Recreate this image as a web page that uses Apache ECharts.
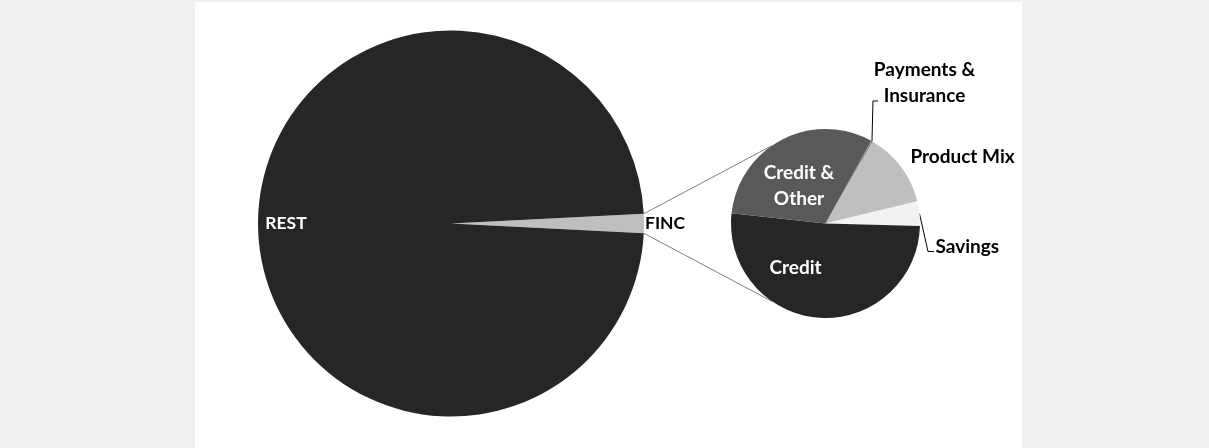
<!DOCTYPE html>
<html>
<head>
<meta charset="utf-8">
<script src="https://cdn.jsdelivr.net/npm/echarts@6/dist/echarts.min.js"></script>
<style>
  html, body { margin: 0; padding: 0; background: #f0f0f0; }
  #panel { position: absolute; left: 195px; top: 2px; width: 827px; height: 446px; background: #ffffff; }
  #chart { position: absolute; left: 0; top: 0; width: 1209px; height: 448px; }
</style>
</head>
<body>
<div id="panel"></div>
<div id="chart"></div>
<script>
// Overall split: the financial sector against everything else
const mainNames = ['FINC', 'REST'];
const mainValues = [1.6, 98.4];
const mainColors = ['#bfbfbf', '#262626'];

// Breakdown of the FINC slice
const finNames = ['Payments &\nInsurance', 'Product Mix', 'Savings', 'Credit', 'Credit &\nOther'];
const finValues = [0.3, 12.9, 4.2, 51.3, 31.3];
const finColors = ['#8c8c8c', '#bfbfbf', '#f2f2f2', '#262626', '#595959'];

// Pie geometry (pixels)
const BIG = { cx: 451, cy: 223.5, r: 193 };
const SMALL = { cx: 825.5, cy: 223.5, r: 94.5 };
const FONT = 'Lato, "Open Sans", sans-serif';
const DEG = Math.PI / 180;

const sum = a => a.reduce((s, v) => s + v, 0);

// FINC is centred on the 3 o'clock direction of the main pie
const fincHalf = mainValues[0] / sum(mainValues) * 180;
// Breakdown pie: first boundary after "Payments & Insurance" sits at 60 degrees
const finStart = 60 + finValues[0] / sum(finValues) * 360;

// Mid-angle (degrees, counter-clockwise from 3 o'clock) of each breakdown slice
const finMid = (() => {
  const tot = sum(finValues);
  let a = finStart;
  return finValues.map(v => { const w = v / tot * 360; const m = a - w / 2; a -= w; return m; });
})();

function onCircle(c, angle, rr) {
  const r = rr === undefined ? c.r : rr;
  return [c.cx + r * Math.cos(angle * DEG), c.cy - r * Math.sin(angle * DEG)];
}

// Connector lines from the FINC wedge to the breakdown pie
const topA = onCircle(BIG, fincHalf), topB = onCircle(SMALL, 124.5);
const botA = onCircle(BIG, -fincHalf), botB = onCircle(SMALL, -124.5);

const chart = echarts.init(document.getElementById('chart'), null, { renderer: 'canvas' });

const bigLabel = { fontFamily: FONT, fontWeight: 'bold', fontSize: 17.5 };
const smallLabel = { fontFamily: FONT, fontWeight: 'bold', fontSize: 19, lineHeight: 26 };

chart.setOption({
  backgroundColor: 'transparent',
  animation: false,
  graphic: [
    { type: 'line', z: 0, shape: { x1: topA[0], y1: topA[1], x2: topB[0], y2: topB[1] }, style: { stroke: '#7f7f7f', lineWidth: 1 } },
    { type: 'line', z: 0, shape: { x1: botA[0], y1: botA[1], x2: botB[0], y2: botB[1] }, style: { stroke: '#7f7f7f', lineWidth: 1 } }
  ],
  series: [
    {
      type: 'pie',
      silent: true,
      center: [BIG.cx, BIG.cy],
      radius: [0, BIG.r],
      startAngle: fincHalf,
      clockwise: true,
      avoidLabelOverlap: false,
      itemStyle: { borderWidth: 0 },
      label: Object.assign({ show: true, position: 'inside', formatter: '{b}' }, bigLabel),
      labelLine: { show: false },
      data: mainNames.map((n, i) => ({
        name: n,
        value: mainValues[i],
        itemStyle: { color: mainColors[i] },
        label: { color: i === 0 ? '#000000' : '#ffffff' }
      })),
      labelLayout: function (p) {
        if (p.dataIndex === 0) {
          return { x: BIG.cx + BIG.r + 1, y: BIG.cy, align: 'left', verticalAlign: 'middle' };
        }
        return { x: BIG.cx - BIG.r * 0.855, y: BIG.cy, align: 'center', verticalAlign: 'middle' };
      }
    },
    {
      type: 'pie',
      silent: true,
      center: [SMALL.cx, SMALL.cy],
      radius: [0, SMALL.r],
      startAngle: finStart,
      clockwise: true,
      avoidLabelOverlap: false,
      itemStyle: { borderWidth: 0 },
      label: Object.assign({ show: true, formatter: '{b}' }, smallLabel),
      labelLine: { show: true, lineStyle: { color: '#000000', width: 1 } },
      data: finNames.map((n, i) => {
        const inside = i >= 3;
        return {
          name: n,
          value: finValues[i],
          itemStyle: { color: finColors[i] },
          label: { position: inside ? 'inside' : 'outside', color: inside ? '#ffffff' : '#000000', align: 'center' },
          labelLine: { show: i === 0 || i === 2 }
        };
      }),
      labelLayout: function (p) {
        const c = SMALL;
        switch (p.dataIndex) {
          case 0: {
            const s = onCircle(c, finMid[0]);
            const knee = [s[0] + 1, c.cy - 122.5];
            return {
              x: c.cx + 99, y: c.cy - 140.5, align: 'center', verticalAlign: 'middle',
              labelLinePoints: [s, knee, [knee[0] + 5, knee[1]]]
            };
          }
          case 1:
            return { x: c.cx + 137, y: c.cy - 66.5, align: 'center', verticalAlign: 'middle' };
          case 2: {
            const s = onCircle(c, finMid[2]);
            const knee = [c.cx + 102.5, c.cy + 28];
            return {
              x: c.cx + 110, y: c.cy + 23.5, align: 'left', verticalAlign: 'middle',
              labelLinePoints: [s, knee, [knee[0] + 6, knee[1]]]
            };
          }
          case 3:
            return { x: c.cx - 30, y: c.cy + 44.5, align: 'center', verticalAlign: 'middle' };
          default:
            return { x: c.cx - 26.5, y: c.cy - 37.5, align: 'center', verticalAlign: 'middle' };
        }
      }
    }
  ]
});
</script>
</body>
</html>
